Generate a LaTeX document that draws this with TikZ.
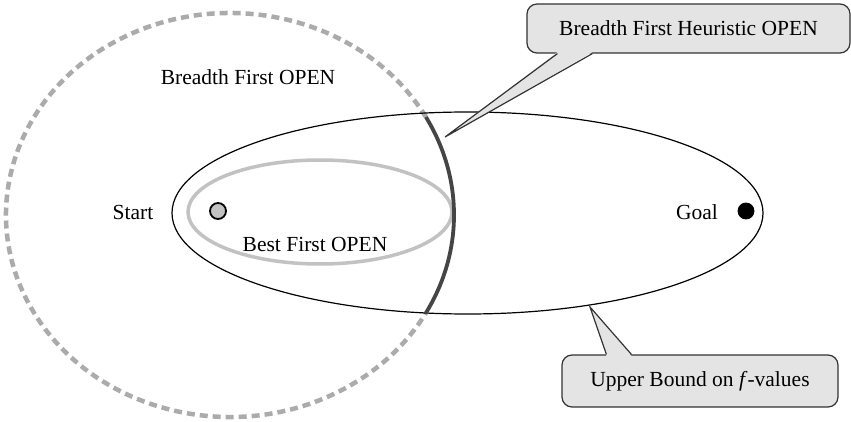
\documentclass[tikz,border=0pt]{standalone}
\usepackage{fontspec}
\setmainfont{Liberation Serif}
\usetikzlibrary{positioning,calc}
\definecolor{callfill}{HTML}{E4E4E4}
\definecolor{opengray}{HTML}{ABABAB}
\definecolor{bestgray}{HTML}{C2C2C2}
\definecolor{heurdark}{HTML}{454545}

\begin{document}
\begin{tikzpicture}[x=1pt, y=1pt,
  lbl/.style={font=\fontsize{21.5}{24}\selectfont, inner sep=0pt},
  callbox/.style={draw=black!80, line width=1.2pt, fill=callfill, rounded corners=10pt, font=\fontsize{21.5}{24}\selectfont},
  pointer/.style={draw=black!80, line width=1.2pt, line join=miter},
  dotnode/.style={circle, draw, line width=1.8pt, minimum size=16pt, inner sep=0pt}]
\useasboundingbox (0,0) rectangle (851,421);
% open lists
\draw[opengray, line width=4.5pt, dash pattern=on 8pt off 5pt] (230,206) ++(29:224pt and 202pt)
  arc[start angle=29, end angle=331, x radius=224pt, y radius=202pt];
\draw[bestgray, line width=3.5pt] (320,209) ellipse[x radius=132pt, y radius=52pt];
\draw[line width=1.2pt] (467.5,208) ellipse[x radius=295.5pt, y radius=101pt];
\draw[heurdark, line width=3.8pt] (230,206) ++(-29:224pt and 202pt)
  arc[start angle=-29, end angle=29, x radius=224pt, y radius=202pt];
% labels and end points
\node[lbl] (bfo) at (248,344) {Breadth First OPEN};
\node[lbl] (start) at (133,209) {Start};
\node[dotnode, fill=bestgray] (sdot) at (218,210) {};
\node[lbl] (best) at (315,177) {Best First OPEN};
\node[lbl] (goal) at (697,209) {Goal};
\node[dotnode, fill=black, minimum size=15pt] (gdot) at (746,210) {};
% callouts
\node[callbox, minimum width=323pt, minimum height=49pt] (hbox) at (688.5,392.5) {Breadth First Heuristic OPEN};
\node[callbox, minimum width=276pt, minimum height=52pt] (ubox) at (700,40) {Upper Bound on \textit{f}-values};
\coordinate (htip) at (445,284);
\coordinate (utip) at (590,114);
\fill[callfill] ($(hbox.south west)+(31pt,1.5pt)$) -- (htip) -- ($(hbox.south west)+(66pt,1.5pt)$) -- cycle;
\draw[pointer] ($(hbox.south west)+(31pt,0pt)$) -- (htip) -- ($(hbox.south west)+(66pt,0pt)$);
\fill[callfill] ($(ubox.north west)+(45pt,-1.5pt)$) -- (utip) -- ($(ubox.north west)+(70pt,-1.5pt)$) -- cycle;
\draw[pointer] ($(ubox.north west)+(45pt,0pt)$) -- (utip) -- ($(ubox.north west)+(70pt,0pt)$);
\end{tikzpicture}
\end{document}
